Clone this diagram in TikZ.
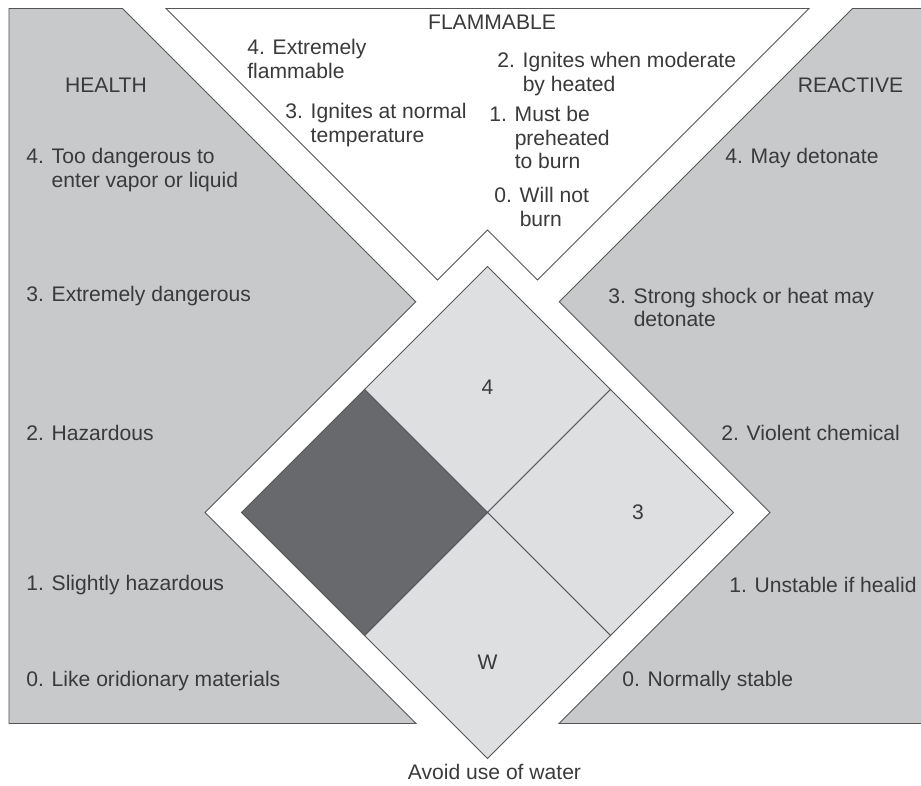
\documentclass[tikz,border=0pt]{standalone}
\usepackage{fontspec}
\setmainfont{Liberation Sans}
\definecolor{panelgray}{RGB}{200,201,203}
\definecolor{quadgray}{RGB}{222,223,225}
\definecolor{hazgray}{RGB}{104,105,109}
\definecolor{edgegray}{RGB}{85,85,88}
\definecolor{textgray}{RGB}{58,58,60}
\newcommand{\ind}{\hphantom{0. }}

\begin{document}
\begin{tikzpicture}
  [panel/.style={draw=edgegray,fill=panelgray,line width=0.5pt},
   flame/.style={draw=edgegray,fill=white,line width=0.5pt},
   quad/.style={draw=edgegray,fill=quadgray,line width=0.5pt},
   hazard/.style={draw=edgegray,fill=hazgray,line width=0.5pt},
   heading/.style={text=textgray,inner sep=0,font=\fontsize{12}{13.6}\selectfont},
   rating/.style={text=textgray,inner sep=0,anchor=west,align=left,
                  font=\fontsize{12}{13.6}\selectfont}]
  \useasboundingbox (-9.75,-5.45) rectangle (8.67,10.25);
  % side panels and the flammable triangle
  \draw[panel] (-9.57,10.08) -- (-7.30,10.08) -- (-1.435,4.215) -- (-5.65,0)
               -- (-1.43,-4.22) -- (-9.57,-4.22) -- cycle;
  \draw[panel] (8.9,10.08) -- (7.30,10.08) -- (1.435,4.215) -- (5.65,0)
               -- (1.43,-4.22) -- (8.9,-4.22) -- cycle;
  \draw[flame] (-6.43,10.08) -- (6.43,10.08) -- (1,4.65) -- (0,5.65)
               -- (-1,4.65) -- cycle;
  % the diamond
  \draw[quad] (0,4.92) -- (2.46,2.46) -- (0,0) -- (-2.46,2.46) -- cycle;
  \draw[quad] (4.92,0) -- (2.46,-2.46) -- (0,0) -- (2.46,2.46) -- cycle;
  \draw[quad] (0,-4.92) -- (-2.46,-2.46) -- (0,0) -- (2.46,-2.46) -- cycle;
  \draw[hazard] (-4.92,0) -- (-2.46,2.46) -- (0,0) -- (-2.46,-2.46) -- cycle;
  \node[heading] (fire) at (0,2.51) {4};
  \node[heading] (react) at (3.01,0) {3};
  \node[heading] (special) at (0,-2.99) {W};
  \node[heading] (water) at (0.14,-5.19) {Avoid use of water};
  % health
  \node[heading] (health) at (-7.63,8.55) {HEALTH};
  \node[rating] (h4) at (-9.23,6.85) {4. Too dangerous to\\\ind enter vapor or liquid};
  \node[rating] (h3) at (-9.23,4.33) {3. Extremely dangerous};
  \node[rating] (h2) at (-9.23,1.59) {2. Hazardous};
  \node[rating] (h1) at (-9.23,-1.45) {1. Slightly hazardous};
  \node[rating] (h0) at (-9.23,-3.37) {0. Like oridionary materials};
  % flammable
  \node[heading] (flammable) at (0.09,9.81) {FLAMMABLE};
  \node[rating] (f4) at (-4.81,9.07) {4. Extremely\\flammable};
  \node[rating] (f3) at (-4.05,7.75) {3. Ignites at normal\\\ind temperature};
  \node[rating] (f2) at (0.19,8.77) {2. Ignites when moderate\\\ind by heated};
  \node[rating] (f1) at (0.03,7.50) {1. Must be\\\ind preheated\\\ind to burn};
  \node[rating] (f0) at (0.13,6.11) {0. Will not\\\ind burn};
  % reactive
  \node[heading] (reactive) at (7.26,8.55) {REACTIVE};
  \node[rating] (r4) at (4.75,7.09) {4. May detonate};
  \node[rating] (r3) at (2.41,4.10) {3. Strong shock or heat may\\\ind detonate};
  \node[rating] (r2) at (4.67,1.59) {2. Violent chemical};
  \node[rating] (r1) at (4.83,-1.45) {1. Unstable if healid};
  \node[rating] (r0) at (2.69,-3.37) {0. Normally stable};
\end{tikzpicture}
\end{document}
